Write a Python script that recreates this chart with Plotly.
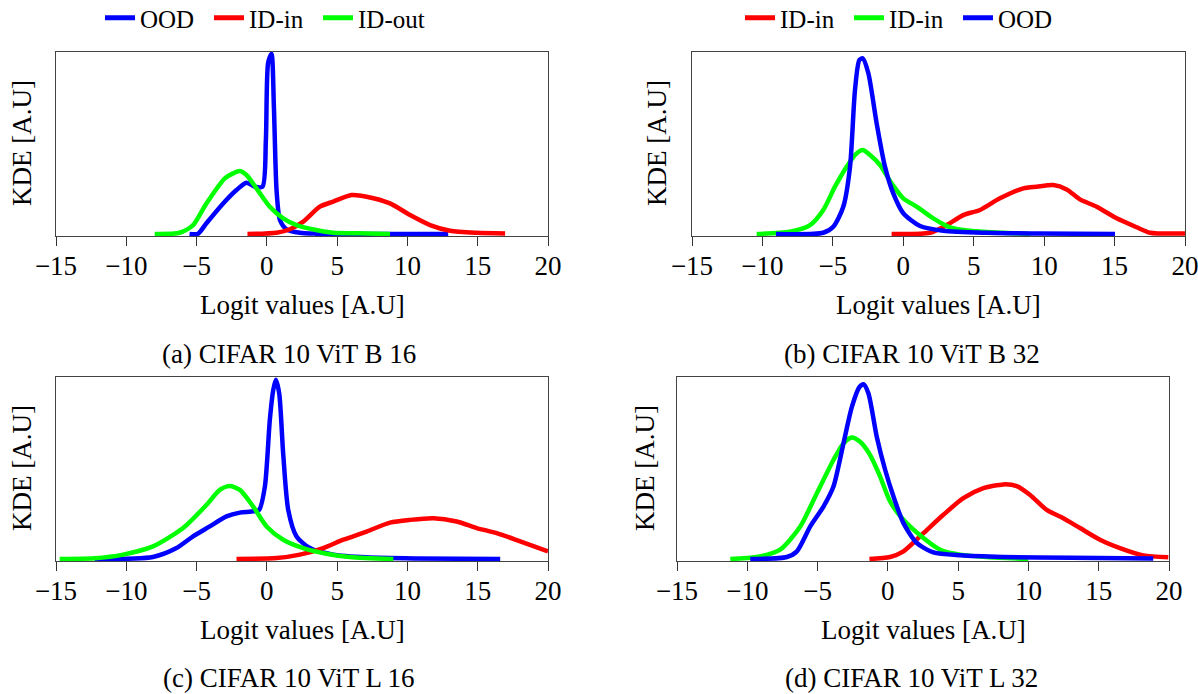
import plotly.graph_objects as go

# ---------------- data ----------------
tick_vals = [-15, -10, -5, 0, 5, 10, 15, 20]
tick_text = ["−15", "−10", "−5", "0", "5", "10", "15", "20"]

# (a) CIFAR 10 ViT B 16
a_ood_x = [-5.5, -4.89, -4.3, -3.11, -2.16, -1.45, -0.85, -0.31, -0.07, 0.09, 0.33, 0.5, 0.69, 0.93, 1.4, 2.35, 3.5, 6.0, 12.9]
a_ood_y = [0.0, 0.002, 0.059, 0.168, 0.242, 0.282, 0.26, 0.26, 0.516, 0.94, 0.99, 0.70, 0.24, 0.077, 0.026, 0.007, 0.002, 0.0, 0.0]
a_idin_x = [-1.38, 0.69, 1.64, 2.59, 3.77, 4.72, 6.03, 7.1, 8.76, 10.19, 11.61, 13.03, 14.93, 16.95]
a_idin_y = [0.0, 0.007, 0.026, 0.068, 0.15, 0.178, 0.214, 0.205, 0.168, 0.104, 0.049, 0.018, 0.007, 0.003]
a_idout_x = [-7.98, -6.2, -5.25, -4.3, -2.99, -2.4, -1.92, -1.45, -0.74, 0.21, 1.16, 2.11, 3.5, 4.7, 7.1, 8.76]
a_idout_y = [0.0, 0.007, 0.049, 0.168, 0.306, 0.333, 0.346, 0.324, 0.251, 0.15, 0.086, 0.049, 0.022, 0.007, 0.003, 0.0]

# (b) CIFAR 10 ViT B 32
b_idin_x = [-0.83, 1.9, 3.08, 4.26, 5.45, 6.86, 8.52, 9.47, 10.65, 11.6, 12.54, 13.73, 15.15, 16.57, 17.52, 20.0]
b_idin_y = [0.0, 0.007, 0.049, 0.104, 0.132, 0.196, 0.251, 0.26, 0.269, 0.245, 0.19, 0.15, 0.086, 0.037, 0.007, 0.003]
b_idin2_x = [-10.41, -8.04, -6.62, -5.68, -4.85, -4.02, -3.31, -2.88, -2.36, -1.65, -0.83, 0.0, 0.95, 2.13, 3.31, 4.73, 7.1, 9.0]
b_idin2_y = [0.0, 0.013, 0.049, 0.132, 0.26, 0.37, 0.443, 0.4615, 0.434, 0.379, 0.278, 0.196, 0.15, 0.086, 0.037, 0.018, 0.007, 0.0]
b_ood_x = [-9.04, -5.68, -4.97, -4.26, -3.78, -3.43, -3.12, -2.88, -2.48, -1.89, -1.30, -0.71, 0.0, 1.19, 2.84, 5.9, 9.5, 15.03]
b_ood_y = [0.0, 0.007, 0.04, 0.15, 0.37, 0.79, 0.956, 0.965, 0.883, 0.608, 0.37, 0.223, 0.114, 0.044, 0.018, 0.007, 0.003, 0.0]

# (c) CIFAR 10 ViT L 16
c_ood_x = [-12.25, -8.1, -6.43, -5.25, -4.06, -2.87, -1.92, -1.09, -0.55, -0.14, 0.21, 0.45, 0.64, 0.88, 1.16, 1.52, 2.11, 3.06, 4.72, 7.1, 10.6, 16.6]
c_ood_y = [0.0, 0.011, 0.06, 0.124, 0.179, 0.234, 0.255, 0.261, 0.27, 0.398, 0.763, 0.927, 0.985, 0.909, 0.58, 0.27, 0.124, 0.06, 0.024, 0.009, 0.003, 0.0]
c_idin_x = [-2.16, 0.69, 2.35, 4.01, 5.44, 7.1, 8.76, 10.19, 11.85, 13.5, 14.93, 16.35, 18.02, 20.0]
c_idin_y = [0.0, 0.005, 0.024, 0.06, 0.106, 0.151, 0.2, 0.215, 0.224, 0.206, 0.17, 0.142, 0.097, 0.042]
c_idout_x = [-14.74, -12.25, -10.23, -8.1, -5.96, -4.3, -3.35, -2.64, -1.92, -0.97, -0.02, 1.16, 2.59, 4.25, 5.9, 9.0]
c_idout_y = [0.0, 0.004, 0.024, 0.069, 0.17, 0.297, 0.38, 0.401, 0.38, 0.288, 0.179, 0.106, 0.06, 0.029, 0.011, 0.0]

# (d) CIFAR 10 ViT L 32
d_idin_x = [-1.31, 0.16, 1.11, 2.53, 3.95, 5.37, 6.8, 8.22, 9.17, 10.12, 11.3, 12.48, 13.67, 15.09, 16.51, 18.17, 19.95]
d_idin_y = [0.0, 0.011, 0.042, 0.142, 0.243, 0.334, 0.389, 0.41, 0.401, 0.352, 0.27, 0.224, 0.17, 0.106, 0.06, 0.02, 0.009]
d_idin2_x = [-11.21, -9.31, -7.66, -6.23, -5.05, -3.87, -3.16, -2.56, -1.97, -1.26, -0.55, 0.16, 1.11, 2.53, 3.72, 5.14, 7.04, 10.0]
d_idin2_y = [0.0, 0.011, 0.051, 0.179, 0.361, 0.544, 0.635, 0.668, 0.644, 0.571, 0.453, 0.316, 0.215, 0.115, 0.051, 0.024, 0.011, 0.0]
d_ood_x = [-9.79, -7.18, -6.47, -5.52, -4.58, -3.87, -3.16, -2.56, -2.02, -1.73, -1.38, -0.79, -0.19, 0.4, 1.11, 2.06, 3.24, 5.14, 8.2, 13.0, 18.88]
d_ood_y = [0.0, 0.011, 0.042, 0.179, 0.288, 0.398, 0.635, 0.836, 0.945, 0.96, 0.909, 0.672, 0.489, 0.343, 0.197, 0.088, 0.036, 0.02, 0.011, 0.007, 0.003]

captions = ["(a) CIFAR 10 ViT B 16", "(b) CIFAR 10 ViT B 32",
            "(c) CIFAR 10 ViT L 16", "(d) CIFAR 10 ViT L 32"]

# ---------------- styling ----------------
W, H = 1198, 694
BLUE, RED, GREEN = "rgb(0,0,255)", "rgb(255,0,0)", "rgb(0,255,0)"
LW = 4.5
FONT = "'Liberation Serif', 'Times New Roman', serif"
FS = 27

fig = go.Figure()

def add(x, y, color, name, axis, legend=None):
    fig.add_trace(go.Scatter(
        x=x, y=y, mode="lines", name=name,
        line=dict(color=color, width=LW, shape="spline", smoothing=0.7),
        xaxis="x" + axis, yaxis="y" + axis,
        showlegend=legend is not None, legend=legend or "legend",
    ))

# (a) - draw order: OOD, ID-in, ID-out (legend order)
add(a_ood_x, a_ood_y, BLUE, "OOD", "", "legend")
add(a_idin_x, a_idin_y, RED, "ID-in", "", "legend")
add(a_idout_x, a_idout_y, GREEN, "ID-out", "", "legend")
# (b)
add(b_idin_x, b_idin_y, RED, "ID-in", "2", "legend2")
add(b_idin2_x, b_idin2_y, GREEN, "ID-in", "2", "legend2")
add(b_ood_x, b_ood_y, BLUE, "OOD", "2", "legend2")
# (c)
add(c_ood_x, c_ood_y, BLUE, "OOD", "3")
add(c_idin_x, c_idin_y, RED, "ID-in", "3")
add(c_idout_x, c_idout_y, GREEN, "ID-out", "3")
# (d)
add(d_idin_x, d_idin_y, RED, "ID-in", "4")
add(d_idin2_x, d_idin2_y, GREEN, "ID-in", "4")
add(d_ood_x, d_ood_y, BLUE, "OOD", "4")

def px_x(p):
    return p / W

def px_y(p):
    return 1 - p / H

YMIN = -0.013
# pixel geometry: (left, right, top, baseline)
geo = {
    "": (56, 548, 52, 234),
    "2": (692, 1185, 52, 234),
    "3": (56, 548, 377, 559),
    "4": (677, 1169, 377, 559),
}

layout = dict(
    width=W, height=H, margin=dict(l=0, r=0, t=0, b=0, autoexpand=False),
    paper_bgcolor="white", plot_bgcolor="white",
    font=dict(family=FONT, size=FS, color="black"),
)

annotations = []
for key, (l, r, t, base) in geo.items():
    hpx = base - t
    bottom = base - YMIN * hpx
    xa = dict(
        domain=[px_x(l), px_x(r)], range=[-15, 20],
        tickvals=tick_vals, ticktext=tick_text,
        ticks="outside", ticklen=9, tickwidth=1, tickcolor="#333",
        ticklabelstandoff=-4, ticklabeloverflow="allow",
        showline=True, mirror=True, linecolor="#444", linewidth=1,
        showgrid=False, zeroline=False, layer="below traces",
        tickfont=dict(family=FONT, size=FS, color="black"),
        anchor="y" + key, fixedrange=True, automargin=False,
    )
    ya = dict(
        domain=[px_y(bottom), px_y(t)], range=[YMIN, 1.0],
        showticklabels=False, ticks="",
        showline=True, mirror=True, linecolor="#444", linewidth=1,
        showgrid=False, zeroline=False, layer="below traces",
        anchor="x" + key, fixedrange=True, automargin=False,
    )
    layout["xaxis" + key] = xa
    layout["yaxis" + key] = ya
    cx = (l + r) / 2
    # x-axis title
    annotations.append(dict(
        text="Logit values [A.U]", x=px_x(cx), y=px_y(base + 71),
        xref="paper", yref="paper", showarrow=False,
        xanchor="center", yanchor="middle",
        font=dict(family=FONT, size=FS, color="black")))
    # y-axis title
    ylab_x = {"": 22, "2": 657, "3": 22, "4": 645}[key]
    annotations.append(dict(
        text="KDE [A.U]", x=px_x(ylab_x), y=px_y((t + base) / 2),
        xref="paper", yref="paper", showarrow=False, textangle=-90,
        xanchor="center", yanchor="middle",
        font=dict(family=FONT, size=FS, color="black")))

cap_pos = [(289, 354, "middle"), (912, 354, "middle"), (289, 694, "bottom"), (911, 694, "bottom")]
for txt, (cx, cy, anc) in zip(captions, cap_pos):
    annotations.append(dict(
        text=txt, x=px_x(cx), y=px_y(cy), xref="paper", yref="paper",
        showarrow=False, xanchor="center", yanchor=anc, borderpad=0,
        font=dict(family=FONT, size=FS, color="black")))

layout["annotations"] = annotations
layout["legend"] = dict(
    orientation="h", x=px_x(100), y=px_y(18), xanchor="left", yanchor="middle",
    font=dict(family=FONT, size=25, color="black"),
    bgcolor="rgba(0,0,0,0)", borderwidth=0, traceorder="normal",
    entrywidth=64, entrywidthmode="pixels", itemsizing="constant",
)
layout["legend2"] = dict(
    orientation="h", x=px_x(740), y=px_y(18), xanchor="left", yanchor="middle",
    font=dict(family=FONT, size=25, color="black"),
    bgcolor="rgba(0,0,0,0)", borderwidth=0, traceorder="normal",
    entrywidth=64, entrywidthmode="pixels", itemsizing="constant",
)

fig.update_layout(**layout)
fig.write_html("out.html")
